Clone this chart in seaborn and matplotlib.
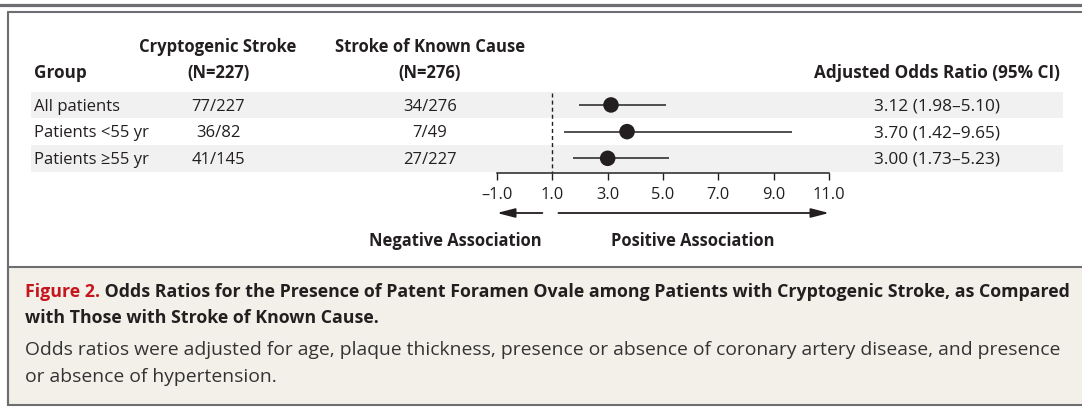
import matplotlib
matplotlib.use("Agg")
import matplotlib.pyplot as plt
import seaborn as sns
import pandas as pd
from matplotlib.transforms import blended_transform_factory
from matplotlib.patches import Rectangle
from matplotlib.lines import Line2D

# ---------------- data ----------------
groups = ["All patients", "Patients <55 yr", "Patients \u226555 yr"]
crypto_counts = ["77/227", "36/82", "41/145"]
known_counts = ["34/276", "7/49", "27/227"]
odds_ratio = [3.12, 3.70, 3.00]
ci_low = [1.98, 1.42, 1.73]
ci_high = [5.10, 9.65, 5.23]
or_labels = ["3.12 (1.98\u20135.10)", "3.70 (1.42\u20139.65)", "3.00 (1.73\u20135.23)"]
x_ticks = [-1.0, 1.0, 3.0, 5.0, 7.0, 9.0, 11.0]
x_tick_labels = ["\u20131.0", "1.0", "3.0", "5.0", "7.0", "9.0", "11.0"]
header_group = "Group"
header_crypto = ["Cryptogenic Stroke", "(N=227)"]
header_known = ["Stroke of Known Cause", "(N=276)"]
header_or = "Adjusted Odds Ratio (95% CI)"
neg_label = "Negative Association"
pos_label = "Positive Association"
caption_fig = "Figure 2."
caption_title_1 = " Odds Ratios for the Presence of Patent Foramen Ovale among Patients with Cryptogenic Stroke, as Compared"
caption_title_2 = "with Those with Stroke of Known Cause."
caption_body_1 = "Odds ratios were adjusted for age, plaque thickness, presence or absence of coronary artery disease, and presence"
caption_body_2 = "or absence of hypertension."

df = pd.DataFrame({"group": groups, "row": list(range(len(groups))),
                   "or": odds_ratio, "lo": ci_low, "hi": ci_high})

# ---------------- style ----------------
sns.set_theme(style="white")
plt.rcParams["font.family"] = ["Open Sans", "DejaVu Sans"]
INK = "#231f20"
GRAY = "#6d6e71"
BAND = "#f1f1f1"
CAP_BG = "#f3f0ea"
RED = "#c4161c"
FS_ROW = 12.0
FS_OR = 12.4
FS_TICK = 11.8
FS_HEAD = 12.0
FS_HEAD_OR = 12.3
FS_ASSOC = 11.9
FS_CAP_B = 12.8
FS_CAP_R = 13.9

W, H = 1082, 407
fig = plt.figure(figsize=(W / 100, H / 100), dpi=100)
fig.patch.set_facecolor("white")

def fx(px):
    return px / W

def fy(py):
    return 1 - py / H

# axes for forest plot: x=-1 -> 497px, x=11 -> 829px ; bottom 173px, top 91.6px
ax = fig.add_axes([fx(497), fy(173), (829 - 497) / W, (173 - 91.6) / H])
ax.patch.set_alpha(0)

# row bands
trans_row = blended_transform_factory(fig.transFigure, ax.transData)
for r in df["row"]:
    if r % 2 == 0:
        ax.add_patch(Rectangle((fx(31), r - 0.5), fx(1063) - fx(31), 1.0,
                               transform=trans_row, facecolor=BAND,
                               edgecolor="none", clip_on=False, zorder=0))

# reference dashed line at OR = 1
ax.vlines(1.0, -0.45, 2.55, colors=INK, linewidth=1.0,
          linestyles=(0, (2.9, 2.2)), zorder=1)

# CI lines
ax.hlines(df["row"], df["lo"], df["hi"], colors=INK, linewidth=1.1, zorder=2)

# points
sns.scatterplot(data=df, x="or", y="row", s=125, color=INK, edgecolor="none",
                ax=ax, zorder=3, legend=False)

ax.set_xlim(-1, 11)
ax.set_ylim(2.55, -0.5)
ax.set_xlabel("")
ax.set_ylabel("")
ax.set_yticks([])
ax.set_xticks(x_ticks)
ax.set_xticklabels(x_tick_labels)
for s in ["top", "left", "right"]:
    ax.spines[s].set_visible(False)
ax.spines["bottom"].set_color(INK)
ax.spines["bottom"].set_linewidth(1.1)
ax.tick_params(axis="x", direction="out", length=5, width=1.0, color=INK,
               pad=5, labelsize=FS_TICK, labelcolor=INK, bottom=True)

# table text
row_off = 0.06
for r, g, c, k, o in zip(df["row"], groups, crypto_counts, known_counts, or_labels):
    ax.text(fx(34), r + row_off, g, transform=trans_row, ha="left", va="center",
            fontsize=FS_ROW, color=INK)
    ax.text(fx(218), r + row_off, c, transform=trans_row, ha="center", va="center",
            fontsize=FS_ROW, color=INK)
    ax.text(fx(430), r + row_off, k, transform=trans_row, ha="center", va="center",
            fontsize=FS_ROW, color=INK)
    ax.text(fx(874), r + row_off, o, transform=trans_row, ha="left", va="center",
            fontsize=FS_OR, color=INK)

# headers
fig.text(fx(34), fy(73), header_group, ha="left", va="center",
         fontsize=FS_HEAD_OR, fontweight="bold", color=INK)
fig.text(fx(218), fy(47), header_crypto[0], ha="center", va="center",
         fontsize=FS_HEAD, fontweight="bold", color=INK)
fig.text(fx(218), fy(73), header_crypto[1], ha="center", va="center",
         fontsize=FS_HEAD, fontweight="bold", color=INK)
fig.text(fx(430), fy(47), header_known[0], ha="center", va="center",
         fontsize=FS_HEAD, fontweight="bold", color=INK)
fig.text(fx(430), fy(73), header_known[1], ha="center", va="center",
         fontsize=FS_HEAD, fontweight="bold", color=INK)
fig.text(fx(1060), fy(73), header_or, ha="right", va="center",
         fontsize=FS_HEAD_OR, fontweight="bold", color=INK)

# direction arrows
arrow_y = fy(213)
aprops = dict(arrowstyle="-|>,head_length=1.08,head_width=0.28", mutation_scale=10,
              lw=1.3, color=INK, shrinkA=0, shrinkB=0)
ax.annotate("", xy=(x_ticks[0], arrow_y), xytext=(0.64, arrow_y),
            xycoords=("data", "figure fraction"),
            textcoords=("data", "figure fraction"), arrowprops=aprops,
            annotation_clip=False)
ax.annotate("", xy=(x_ticks[-1], arrow_y), xytext=(1.22, arrow_y),
            xycoords=("data", "figure fraction"),
            textcoords=("data", "figure fraction"), arrowprops=aprops,
            annotation_clip=False)
fig.text(fx(455), fy(241), neg_label, ha="center", va="center",
         fontsize=FS_ASSOC, fontweight="bold", color=INK)
fig.text(fx(693), fy(241), pos_label, ha="center", va="center",
         fontsize=FS_ASSOC, fontweight="bold", color=INK)

# frame lines
fig.add_artist(Line2D([0, 1], [fy(5), fy(5)], transform=fig.transFigure,
                      color=GRAY, lw=2.3, zorder=5))
fig.add_artist(Line2D([fx(7.5), 1], [fy(12.3), fy(12.3)], transform=fig.transFigure,
                      color=GRAY, lw=1.5, zorder=5))
fig.add_artist(Line2D([fx(7.5), fx(7.5)], [fy(12.3), fy(405)], transform=fig.transFigure,
                      color=GRAY, lw=1.5, zorder=5))
# caption box
fig.add_artist(Rectangle((fx(7.5), fy(405)), 1.2, fy(267) - fy(405),
                         transform=fig.transFigure, facecolor=CAP_BG,
                         edgecolor=GRAY, lw=1.5, zorder=-1))

# caption text
t1 = fig.text(fx(25), fy(292), caption_fig, ha="left", va="center",
              fontsize=FS_CAP_B, fontweight="bold", color=RED)
renderer = fig.canvas.get_renderer()
bb = t1.get_window_extent(renderer)
fig.text(bb.x1 / W, fy(292), caption_title_1, ha="left", va="center",
         fontsize=FS_CAP_B, fontweight="bold", color=INK)
fig.text(fx(25), fy(318), caption_title_2, ha="left", va="center",
         fontsize=FS_CAP_B, fontweight="bold", color=INK)
fig.text(fx(25), fy(350), caption_body_1, ha="left", va="center",
         fontsize=FS_CAP_R, color="#333333")
fig.text(fx(25), fy(377), caption_body_2, ha="left", va="center",
         fontsize=FS_CAP_R, color="#333333")

fig.savefig("out.png", dpi=100)
